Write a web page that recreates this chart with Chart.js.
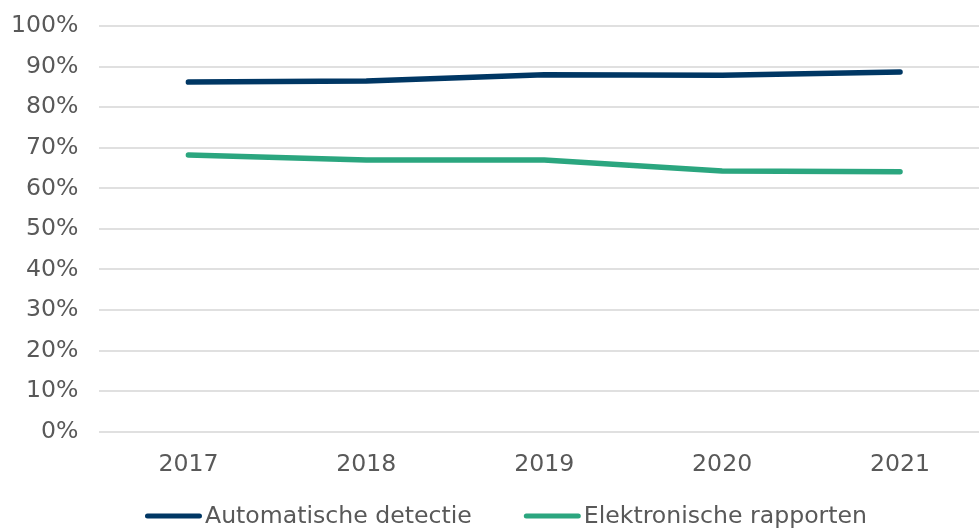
<!DOCTYPE html>
<html>
<head>
<meta charset="utf-8">
<script src="https://cdn.jsdelivr.net/npm/chart.js@4.4.1/dist/chart.umd.min.js"></script>
<style>
  html, body { margin: 0; padding: 0; background: #fff; overflow: hidden; }
  #wrap { width: 989px; height: 538px; margin-top: -9px; }
</style>
</head>
<body>
<div id="wrap"><canvas id="myChart"></canvas></div>
<script>
const years = ['2017', '2018', '2019', '2020', '2021'];
const automatischeDetectie = [86.2, 86.5, 88.0, 87.9, 88.7];
const elektronischeRapporten = [68.2, 67.0, 67.0, 64.3, 64.1];
const yTicks = [0, 10, 20, 30, 40, 50, 60, 70, 80, 90, 100];

const textColor = '#595959';
const font = { family: 'DejaVu Sans, Verdana, sans-serif', size: 23.6 };

// simple legend drawn under the chart: line sample + label, close together
const bottomLegend = {
  id: 'bottomLegend',
  afterDraw(chart) {
    const c = chart.ctx;
    const sets = chart.data.datasets;
    const lineLen = 57, textGap = 3, itemGap = 52;
    c.save();
    c.font = font.size + 'px ' + font.family;
    c.textBaseline = 'middle';
    const widths = sets.map(d => lineLen + textGap + c.measureText(d.label).width);
    const total = widths.reduce((a, b) => a + b, 0) + itemGap * (sets.length - 1);
    let x = 506 - total / 2;
    const y = chart.height - 13;
    sets.forEach((d, i) => {
      c.strokeStyle = d.borderColor;
      c.lineWidth = 5;
      c.lineCap = 'round';
      c.beginPath();
      c.moveTo(x + 2.5, y);
      c.lineTo(x + lineLen - 2.5, y);
      c.stroke();
      c.fillStyle = textColor;
      c.fillText(d.label, x + lineLen + textGap, y + 1);
      x += widths[i] + itemGap;
    });
    c.restore();
  }
};

const ctx = document.getElementById('myChart').getContext('2d');
new Chart(ctx, {
  type: 'line',
  data: {
    labels: years,
    datasets: [
      {
        label: 'Automatische detectie',
        data: automatischeDetectie,
        borderColor: '#003764',
        backgroundColor: '#003764',
        borderWidth: 5.5,
        borderCapStyle: 'round',
        pointRadius: 0,
        tension: 0
      },
      {
        label: 'Elektronische rapporten',
        data: elektronischeRapporten,
        borderColor: '#2ba67f',
        backgroundColor: '#2ba67f',
        borderWidth: 5.5,
        borderCapStyle: 'round',
        pointRadius: 0,
        tension: 0
      }
    ]
  },
  options: {
    responsive: true,
    maintainAspectRatio: false,
    animation: false,
    layout: { padding: { top: 0, left: -10, right: 0, bottom: 39 } },
    plugins: {
      tooltip: { enabled: false },
      legend: { display: false }
    },
    scales: {
      x: {
        offset: true,
        grid: { display: false },
        border: { display: false },
        ticks: { color: textColor, font: font, padding: 11 }
      },
      y: {
        min: 0,
        max: 100,
        afterBuildTicks: (axis) => { axis.ticks = yTicks.map(v => ({ value: v })); },
        grid: { color: '#e0e0e0', lineWidth: 2, drawTicks: false },
        border: { display: false },
        ticks: {
          color: textColor,
          font: font,
          padding: 21,
          callback: (v) => v + '%'
        }
      }
    }
  },
  plugins: [bottomLegend]
});
</script>
</body>
</html>
